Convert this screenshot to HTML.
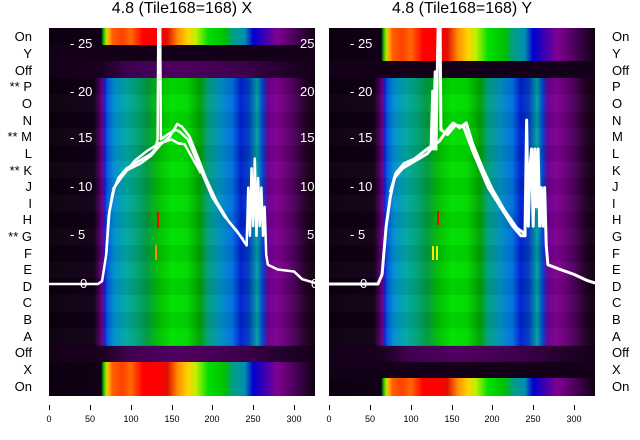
<!DOCTYPE html>
<html><head><style>
body{margin:0;width:640px;height:440px;background:#fff;position:relative;overflow:hidden;font-family:"Liberation Sans","DejaVu Sans",sans-serif;}
.a{position:absolute}
.panel{position:absolute;top:28px;width:266px;height:368px;overflow:hidden;background:#0e0012}
.band{position:absolute;left:0;width:266px}
.data{background:linear-gradient(90deg,#0c0010 0%,#120016 16.9%,#4a0060 19%,#6a0090 20.2%,#1020d0 20.9%,#0060e0 22.1%,#0090d0 24.5%,#00a8a0 29.1%,#00a070 33.7%,#009a40 36.8%,#00c000 41.4%,#00e000 46%,#00d800 52.1%,#00a000 56.7%,#00a080 59.8%,#0090c0 64.4%,#0070e0 69%,#0020d0 72.1%,#0040c0 75.2%,#00a0a0 78.2%,#0040d0 80.4%,#6a0090 82.2%,#800090 85.9%,#500060 92%,#200020 96.6%,#100010 100%)}
.bright{background:linear-gradient(90deg,#0c0010 0%,#120016 19.6%,#00c000 20.5%,#c0e000 21.5%,#ffb000 22.4%,#ff6000 23.9%,#ff4000 27.6%,#ff6a00 30.7%,#ff0000 35.3%,#ff0000 41.4%,#e01000 44.5%,#ff9000 48.5%,#ffd000 52.1%,#c0f000 55.2%,#00e000 59.8%,#00c000 66%,#00a080 69%,#0090b0 73.6%,#0000d0 76.7%,#4000b0 81.3%,#800090 85.9%,#400050 93.6%,#100010 100%)}
.dark{background:#140018}
.darkp{background:linear-gradient(90deg,#140018 0%,#1a0020 20%,#400050 30%,#500060 50%,#3a0048 75%,#200028 90%,#140018 100%)}
.rows{background:repeating-linear-gradient(180deg,rgba(0,0,0,0.06) 0 16.7px,rgba(255,255,255,0.02) 16.7px 33.4px)}
.yl{position:absolute;color:#fff;font-size:13px;line-height:13px}
.lab{position:absolute;font-size:13px;line-height:14px;color:#000}
.xt{position:absolute;font-size:9px;color:#000;transform:translateX(-50%)}
.tk{position:absolute;width:1px;height:5px;background:#000;top:405px}
</style></head><body>
<div class="a" style="left:0;width:364px;top:0;font-size:16px;text-align:center;">4.8 (Tile168=168) X</div>
<div class="a" style="left:280px;width:364px;top:0;font-size:16px;text-align:center;">4.8 (Tile168=168) Y</div>

<div class="panel" style="left:49px">
 <div class="band bright" style="top:0;height:17px"></div>
 <div class="band dark" style="top:17px;height:16px"></div>
 <div class="band darkp" style="top:33px;height:17px"></div>
 <div class="band data" style="top:50px;height:268px"></div>
 <div class="band rows" style="top:50px;height:268px"></div>
 <div class="band darkp" style="top:318px;height:16px"></div>
 <div class="band bright" style="top:334px;height:34px"></div>
 <div class="yl" style="left:21px;top:9px">- 25</div>
 <div class="yl" style="left:21px;top:57px">- 20</div>
 <div class="yl" style="left:21px;top:103px">- 15</div>
 <div class="yl" style="left:21px;top:152px">- 10</div>
 <div class="yl" style="left:21px;top:200px">- 5</div>
 <div class="yl" style="left:31px;top:249px">0</div>
 <div class="yl" style="left:251px;top:9px">25</div>
 <div class="yl" style="left:251px;top:57px">20</div>
 <div class="yl" style="left:251px;top:103px">15</div>
 <div class="yl" style="left:251px;top:152px">10</div>
 <div class="yl" style="left:258px;top:200px">5</div>
 <div class="yl" style="left:262px;top:249px">0</div>
 <div class="a" style="left:108px;top:184px;width:2px;height:16px;background:#f00"></div>
 <div class="a" style="left:106px;top:217px;width:2px;height:15px;background:#f80"></div>
 <svg class="a" style="left:0;top:0" width="266" height="368" viewBox="0 0 266 368">
  <g fill="none" stroke="#fff" stroke-width="2.5" stroke-linejoin="round" transform="translate(0,256) scale(0.8167,-9.64)">
   <polyline vector-effect="non-scaling-stroke" points="0,0 60,0 65,0.3 70,3 73,7 78,9.5 85,11 95,12 105,12.5 115,13 125,13.5 130,14 133,15 134,28 136,28 137,15 145,15.5 155,16 160,15.8 170,15 180,13 190,11 200,9 215,7 230,5.5 238,4.5 242,4 244,10 246,5 248,12 250,6 252,13 254,5 256,11 258,6 260,10 262,5 264,8 266,3 268,2 280,1.5 300,1.3 310,0.5 326,0.1"/>
   <polyline vector-effect="non-scaling-stroke" points="70,3 74,7.5 80,10 90,11.5 100,12 112,12.5 125,13.3 137,14.5 148,15.3 157,16.6 163,16.3 172,15.3 182,13.2 192,11 205,8.6 220,6.5 238,4.6"/>
   <polyline vector-effect="non-scaling-stroke" points="78,9.8 90,11.2 105,12.8 120,13.8 135,14.6 150,15 158,14.6 166,14.5 176,13 186,11.5"/>
  </g>
 </svg>
</div>

<div class="panel" style="left:329px">
 <div class="band bright" style="top:0;height:33px"></div>
 <div class="band dark" style="top:33px;height:17px"></div>
 <div class="band data" style="top:50px;height:268px"></div>
 <div class="band rows" style="top:50px;height:268px"></div>
 <div class="band darkp" style="top:318px;height:16px"></div>
 <div class="band dark" style="top:334px;height:16px"></div>
 <div class="band bright" style="top:350px;height:18px"></div>
 <div class="yl" style="left:21px;top:9px">- 25</div>
 <div class="yl" style="left:21px;top:57px">- 20</div>
 <div class="yl" style="left:21px;top:103px">- 15</div>
 <div class="yl" style="left:21px;top:152px">- 10</div>
 <div class="yl" style="left:21px;top:200px">- 5</div>
 <div class="yl" style="left:31px;top:249px">0</div>
 <div class="a" style="left:108px;top:183px;width:2px;height:14px;background:#f00"></div>
 <div class="a" style="left:103px;top:218px;width:2px;height:14px;background:#ee0"></div>
 <div class="a" style="left:107px;top:218px;width:2px;height:14px;background:#ee0"></div>
 <svg class="a" style="left:0;top:0" width="266" height="368" viewBox="0 0 266 368">
  <g fill="none" stroke="#fff" stroke-width="3" stroke-linejoin="round" transform="translate(0,256) scale(0.8167,-9.64)">
   <polyline vector-effect="non-scaling-stroke" points="0,0 60,0 65,1 70,6 75,9 80,11 90,12 100,12.5 110,13 120,13.5 125,14 127,20 128,14 130,22 131,14 133,24 134,28 136,28 137,16 145,15.5 155,16.5 165,16.3 175,14 185,12 195,10 210,8 225,6 235,5 240,5 242,17 244,6 246,12 248,14 250,6 252,14 254,8 256,14 258,6 260,10 262,6 264,10 266,4 268,2 280,1.6 300,1 315,0.4 326,0.1"/>
   <polyline vector-effect="non-scaling-stroke" points="75,9.5 82,11.5 92,12.5 105,13 120,14 135,14.8 145,16 152,16.7 160,16.2 168,16.7 176,14.5 188,12 200,9.8 215,7.6 230,5.8 240,5.2"/>
  </g>
 </svg>
</div>

<div class="lab" style="right:608px;top:30px">On</div>
<div class="lab" style="right:608px;top:47px">Y</div>
<div class="lab" style="right:608px;top:64px">Off</div>
<div class="lab" style="right:608px;top:80px">** P</div>
<div class="lab" style="right:608px;top:97px">O</div>
<div class="lab" style="right:608px;top:114px">N</div>
<div class="lab" style="right:608px;top:130px">** M</div>
<div class="lab" style="right:608px;top:147px">L</div>
<div class="lab" style="right:608px;top:164px">** K</div>
<div class="lab" style="right:608px;top:180px">J</div>
<div class="lab" style="right:608px;top:197px">I</div>
<div class="lab" style="right:608px;top:213px">H</div>
<div class="lab" style="right:608px;top:230px">** G</div>
<div class="lab" style="right:608px;top:247px">F</div>
<div class="lab" style="right:608px;top:263px">E</div>
<div class="lab" style="right:608px;top:280px">D</div>
<div class="lab" style="right:608px;top:296px">C</div>
<div class="lab" style="right:608px;top:313px">B</div>
<div class="lab" style="right:608px;top:330px">A</div>
<div class="lab" style="right:608px;top:346px">Off</div>
<div class="lab" style="right:608px;top:363px">X</div>
<div class="lab" style="right:608px;top:380px">On</div>

<div class="lab" style="left:612px;top:30px">On</div>
<div class="lab" style="left:612px;top:47px">Y</div>
<div class="lab" style="left:612px;top:64px">Off</div>
<div class="lab" style="left:612px;top:80px">P</div>
<div class="lab" style="left:612px;top:97px">O</div>
<div class="lab" style="left:612px;top:114px">N</div>
<div class="lab" style="left:612px;top:130px">M</div>
<div class="lab" style="left:612px;top:147px">L</div>
<div class="lab" style="left:612px;top:164px">K</div>
<div class="lab" style="left:612px;top:180px">J</div>
<div class="lab" style="left:612px;top:197px">I</div>
<div class="lab" style="left:612px;top:213px">H</div>
<div class="lab" style="left:612px;top:230px">G</div>
<div class="lab" style="left:612px;top:247px">F</div>
<div class="lab" style="left:612px;top:263px">E</div>
<div class="lab" style="left:612px;top:280px">D</div>
<div class="lab" style="left:612px;top:296px">C</div>
<div class="lab" style="left:612px;top:313px">B</div>
<div class="lab" style="left:612px;top:330px">A</div>
<div class="lab" style="left:612px;top:346px">Off</div>
<div class="lab" style="left:612px;top:363px">X</div>
<div class="lab" style="left:612px;top:380px">On</div>

<div class="tk" style="left:49px"></div><div class="xt" style="left:49px;top:414px">0</div>
<div class="tk" style="left:90px"></div><div class="xt" style="left:90px;top:414px">50</div>
<div class="tk" style="left:131px"></div><div class="xt" style="left:131px;top:414px">100</div>
<div class="tk" style="left:172px"></div><div class="xt" style="left:172px;top:414px">150</div>
<div class="tk" style="left:212px"></div><div class="xt" style="left:212px;top:414px">200</div>
<div class="tk" style="left:253px"></div><div class="xt" style="left:253px;top:414px">250</div>
<div class="tk" style="left:294px"></div><div class="xt" style="left:294px;top:414px">300</div>

<div class="tk" style="left:329px"></div><div class="xt" style="left:329px;top:414px">0</div>
<div class="tk" style="left:370px"></div><div class="xt" style="left:370px;top:414px">50</div>
<div class="tk" style="left:411px"></div><div class="xt" style="left:411px;top:414px">100</div>
<div class="tk" style="left:452px"></div><div class="xt" style="left:452px;top:414px">150</div>
<div class="tk" style="left:492px"></div><div class="xt" style="left:492px;top:414px">200</div>
<div class="tk" style="left:533px"></div><div class="xt" style="left:533px;top:414px">250</div>
<div class="tk" style="left:574px"></div><div class="xt" style="left:574px;top:414px">300</div>
</body></html>
